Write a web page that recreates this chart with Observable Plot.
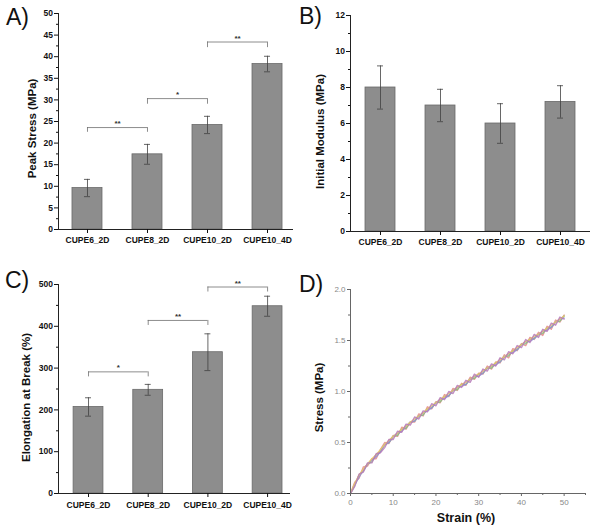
<!DOCTYPE html>
<html><head><meta charset="utf-8">
<script src="https://cdn.jsdelivr.net/npm/d3@7"></script>
<script src="https://cdn.jsdelivr.net/npm/@observablehq/plot@0.6"></script>
<style>
body{margin:0;background:#fff;}
#wrap{position:relative;width:601px;height:529px;overflow:hidden;font-family:"Liberation Sans",Arial,sans-serif;background:#fff;}
.panel{position:absolute;}
.lab{position:absolute;font-size:23px;color:#111;line-height:1;font-family:"Liberation Sans",Arial,sans-serif;}
</style></head><body>
<div id="wrap"></div>
<script>
// ---------- data ----------
const categories = ["CUPE6_2D", "CUPE8_2D", "CUPE10_2D", "CUPE10_4D"];

const peakStress = [9.6, 17.4, 24.2, 38.3];
const peakStressErr = [2.0, 2.3, 2.0, 1.8];
const peakTicks = [0, 5, 10, 15, 20, 25, 30, 35, 40, 45, 50];
const peakMinor = [2.5, 7.5, 12.5, 17.5, 22.5, 27.5, 32.5, 37.5, 42.5, 47.5];

const modulus = [8.0, 7.0, 6.0, 7.2];
const modulusErr = [1.2, 0.9, 1.1, 0.9];
const modulusTicks = [0, 2, 4, 6, 8, 10, 12];
const modulusMinor = [1, 3, 5, 7, 9, 11];

const elongation = [207, 248, 338, 448];
const elongationErr = [22, 13, 44, 24];
const elongTicks = [0, 100, 200, 300, 400, 500];
const elongMinor = [50, 150, 250, 350, 450];

// significance brackets (category index from/to, bracket level, end level)
const sigAFrom = [0, 1, 2];
const sigATo = [1, 2, 3];
const sigALevel = [23.6, 30.3, 43.4];
const sigAEnd = [22.5, 29.0, 42.1];
const sigALabel = ["**", "*", "**"];

const sigCFrom = [0, 1, 2];
const sigCTo = [1, 2, 3];
const sigCLevel = [291, 414, 494];
const sigCEnd = [279, 402, 482];
const sigCLabel = ["*", "**", "**"];

// stress-strain curves (panel D)
const strain = [0,1,2,3,4,5,6,7,8,9,10,11,12,13,14,15,16,17,18,19,20,21,22,23,24,25,26,27,28,29,30,31,32,33,34,35,36,37,38,39,40,41,42,43,44,45,46,47,48,49,50];
const stressRed = [0.00,0.11,0.15,0.26,0.27,0.34,0.34,0.43,0.50,0.49,0.57,0.56,0.65,0.63,0.70,0.70,0.78,0.76,0.85,0.83,0.90,0.89,0.97,0.95,1.03,1.01,1.08,1.06,1.14,1.12,1.18,1.17,1.25,1.22,1.29,1.28,1.36,1.33,1.42,1.40,1.47,1.45,1.53,1.51,1.58,1.55,1.64,1.61,1.70,1.68,1.75];
const stressGreen = [0.00,0.08,0.18,0.22,0.29,0.31,0.38,0.41,0.48,0.50,0.56,0.57,0.63,0.64,0.70,0.71,0.76,0.77,0.83,0.84,0.89,0.90,0.95,0.96,1.01,1.02,1.07,1.07,1.12,1.13,1.17,1.18,1.23,1.23,1.28,1.29,1.34,1.35,1.40,1.41,1.46,1.47,1.51,1.52,1.56,1.57,1.62,1.63,1.68,1.69,1.74];
const stressBlue = [0.00,0.09,0.16,0.23,0.29,0.33,0.36,0.41,0.48,0.50,0.56,0.59,0.61,0.66,0.70,0.71,0.76,0.79,0.81,0.84,0.89,0.92,0.93,0.96,1.01,1.04,1.05,1.07,1.12,1.15,1.15,1.18,1.23,1.25,1.26,1.29,1.34,1.37,1.38,1.41,1.46,1.49,1.49,1.52,1.56,1.59,1.60,1.63,1.68,1.71,1.72];
const stressYellow = [0.00,0.10,0.18,0.24,0.29,0.34,0.38,0.43,0.48,0.52,0.56,0.59,0.63,0.66,0.70,0.73,0.76,0.79,0.83,0.86,0.89,0.92,0.95,0.98,1.01,1.04,1.07,1.09,1.12,1.15,1.17,1.20,1.23,1.25,1.28,1.31,1.34,1.37,1.40,1.43,1.46,1.49,1.51,1.54,1.56,1.59,1.62,1.65,1.68,1.71,1.74];
const stressPurple = [0.00,0.07,0.19,0.21,0.30,0.30,0.39,0.40,0.45,0.53,0.53,0.61,0.60,0.68,0.67,0.75,0.73,0.81,0.80,0.88,0.86,0.94,0.92,1.00,0.98,1.06,1.04,1.11,1.09,1.17,1.14,1.22,1.20,1.27,1.25,1.33,1.31,1.39,1.37,1.45,1.43,1.51,1.48,1.56,1.53,1.61,1.59,1.67,1.65,1.73,1.71];
const strainTicks = [0, 10, 20, 30, 40, 50];
const strainMinor = [5, 15, 25, 35, 45, 55];
const stressTicks = [0, 0.5, 1.0, 1.5, 2.0];
const stressMinor = [0.25, 0.75, 1.25, 1.75];

// ---------- drawing ----------
const FONT = "'Liberation Sans', Arial, sans-serif";
const wrap = document.getElementById("wrap");

function place(node, left, top) {
  node.classList.add("panel");
  node.style.left = left + "px";
  node.style.top = top + "px";
  wrap.appendChild(node);
}
function panelLabel(txt, left, top) {
  const d = document.createElement("div");
  d.className = "lab";
  d.textContent = txt;
  d.style.left = left + "px";
  d.style.top = top + "px";
  wrap.appendChild(d);
}

function barPanel(o) {
  const rows = categories.map((c, i) => ({i, c, v: o.values[i], lo: o.values[i] - o.errs[i], hi: o.values[i] + o.errs[i]}));
  const marks = [
    Plot.rectY(rows, {x1: d => d.i - 0.25, x2: d => d.i + 0.25, y1: 0, y2: "v", fill: "#8d8d8d", stroke: "#6a6a6a", strokeWidth: 0.8}),
    Plot.ruleX(rows, {x: "i", y1: "lo", y2: "hi", stroke: "#404040", strokeWidth: 0.8}),
    Plot.ruleY(rows, {y: "hi", x1: d => d.i - 0.05, x2: d => d.i + 0.05, stroke: "#404040", strokeWidth: 0.8}),
    Plot.ruleY(rows, {y: "lo", x1: d => d.i - 0.05, x2: d => d.i + 0.05, stroke: "#404040", strokeWidth: 0.8})
  ];
  if (o.sig) {
    const s = o.sig.from.map((f, k) => ({from: f, to: o.sig.to[k], y: o.sig.level[k], e: o.sig.end[k], label: o.sig.label[k]}));
    marks.push(
      Plot.ruleY(s, {y: "y", x1: "from", x2: "to", stroke: "#707070", strokeWidth: 0.8}),
      Plot.ruleX(s, {x: "from", y1: "e", y2: "y", stroke: "#707070", strokeWidth: 0.8}),
      Plot.ruleX(s, {x: "to", y1: "e", y2: "y", stroke: "#707070", strokeWidth: 0.8}),
      Plot.text(s, {x: d => (d.from + d.to) / 2, y: "y", text: "label", dy: -4, fontSize: 8, fontWeight: "bold", fill: "#333"})
    );
  }
  marks.push(
    Plot.ruleY([o.yDomain[0]], {stroke: "#222", strokeWidth: 1}),
    Plot.ruleX([o.xDomain[0]], {stroke: "#222", strokeWidth: 1}),
    Plot.axisY({ticks: o.yTicks, tickSize: 4, tickPadding: 1.5, label: null, fontWeight: "bold", fontSize: 8.5}),
    Plot.axisY({ticks: o.yMinor, tickSize: 2, tickFormat: () => "", label: null}),
    Plot.axisX({ticks: [0, 1, 2, 3], tickFormat: i => categories[i], tickSize: 4, tickPadding: o.xPad, label: null, fontWeight: "bold", fontSize: 8.5}),
    Plot.text([o.yLabel], {text: d => d, frameAnchor: "left", textAnchor: "middle", lineAnchor: "middle", rotate: -90, dx: o.labelDx, dy: o.labelDy, fontSize: 11.5, fontWeight: "bold", fill: "#111"})
  );
  return Plot.plot({
    width: o.width, height: o.height,
    marginLeft: o.m[0], marginRight: o.m[1], marginTop: o.m[2], marginBottom: o.m[3],
    x: {type: "linear", domain: o.xDomain},
    y: {domain: o.yDomain},
    style: {fontFamily: FONT, color: "#111", background: "transparent", overflow: "visible"},
    marks
  });
}

place(barPanel({
  values: peakStress, errs: peakStressErr, yDomain: [0, 50], yTicks: peakTicks, yMinor: peakMinor,
  yLabel: "Peak Stress (MPa)", xDomain: [-0.483, 3.433], width: 300, height: 250, m: [58, 7, 13, 21],
  labelDx: -26, labelDy: 7, xPad: 3,
  sig: {from: sigAFrom, to: sigATo, level: sigALevel, end: sigAEnd, label: sigALabel}
}), 0, 0);

place(barPanel({
  values: modulus, errs: modulusErr, yDomain: [0, 12], yTicks: modulusTicks, yMinor: modulusMinor,
  yLabel: "Initial Modulus (MPa)", xDomain: [-0.5, 3.5], width: 301, height: 250, m: [50, 11, 15, 19],
  labelDx: -30, labelDy: 8, xPad: 3
}), 300, 0);

place(barPanel({
  values: elongation, errs: elongationErr, yDomain: [0, 500], yTicks: elongTicks, yMinor: elongMinor,
  yLabel: "Elongation at Break (%)", xDomain: [-0.503, 3.384], width: 300, height: 269, m: [58, 10, 24, 36],
  labelDx: -32, labelDy: 8.5, xPad: 4,
  sig: {from: sigCFrom, to: sigCTo, level: sigCLevel, end: sigCEnd, label: sigCLabel}
}), 0, 260);

// panel D
const series = [
  {name: "red", color: "#e58a8a", vals: stressRed},
  {name: "green", color: "#7fc27f", vals: stressGreen},
  {name: "blue", color: "#8a8fd8", vals: stressBlue},
  {name: "yellow", color: "#e9c866", vals: stressYellow},
  {name: "purple", color: "#b77ab8", vals: stressPurple}
];
const curveRows = series.flatMap(s => strain.map((x, k) => ({s: s.name, color: s.color, x, y: s.vals[k]})));

place(Plot.plot({
  width: 301, height: 269,
  marginLeft: 50, marginRight: 16, marginTop: 29, marginBottom: 36,
  x: {domain: [0, 55]},
  y: {domain: [0, 2]},
  style: {fontFamily: FONT, color: "#555", background: "transparent", overflow: "visible"},
  marks: [
    Plot.line(curveRows, {x: "x", y: "y", z: "s", stroke: "color", strokeWidth: 1.4, strokeOpacity: 0.85}),
    Plot.ruleX([0], {stroke: "#666", strokeWidth: 1}),
    Plot.ruleY([0], {stroke: "#666", strokeWidth: 1}),
    Plot.axisX({ticks: strainTicks, tickSize: 3, tickPadding: 3, label: null, fontSize: 8, fill: "#888", stroke: "#666"}),
    Plot.axisX({ticks: strainMinor, tickSize: 2, tickFormat: () => "", label: null, stroke: "#666"}),
    Plot.axisY({ticks: stressTicks, tickSize: 3, tickPadding: 2, tickFormat: d3.format(".1f"), label: null, fontSize: 8, fill: "#888", stroke: "#666"}),
    Plot.axisY({ticks: stressMinor, tickSize: 2, tickFormat: () => "", label: null, stroke: "#666"}),
    Plot.text(["Strain (%)"], {text: d => d, frameAnchor: "bottom", textAnchor: "middle", lineAnchor: "middle", dx: -2, dy: 24, fontSize: 12.5, fontWeight: "bold", fill: "#111"}),
    Plot.text(["Stress (MPa)"], {text: d => d, frameAnchor: "left", textAnchor: "middle", lineAnchor: "middle", rotate: -90, dx: -31, dy: 6, fontSize: 11.5, fontWeight: "bold", fill: "#111"})
  ]
}), 300, 260);

panelLabel("A)", 6, 6);
panelLabel("B)", 299, 5);
panelLabel("C)", 5, 269);
panelLabel("D)", 299, 273);
</script>
</body></html>
